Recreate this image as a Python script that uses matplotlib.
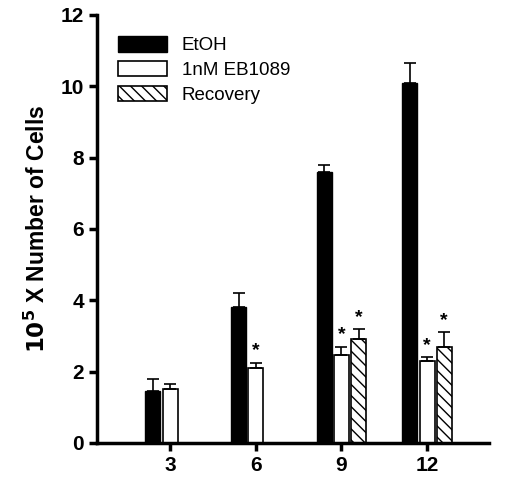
import matplotlib
matplotlib.use("Agg")
import matplotlib.pyplot as plt
import numpy as np

days = ["3", "6", "9", "12"]
etoh = [1.45, 3.8, 7.6, 10.1]
etoh_err = [0.35, 0.4, 0.2, 0.55]
eb = [1.5, 2.1, 2.45, 2.3]
eb_err = [0.15, 0.15, 0.25, 0.1]
rec = [np.nan, np.nan, 2.9, 2.7]
rec_err = [0, 0, 0.28, 0.4]
eb_star = [False, True, True, True]
rec_star = [False, False, True, True]

plt.rcParams['font.family'] = ['Liberation Sans', 'DejaVu Sans']
plt.rcParams['hatch.linewidth'] = 1.0
fig = plt.figure(figsize=(5.2, 4.97), dpi=100)
ax = fig.add_axes([0.187, 0.109, 0.753, 0.861])
x = np.arange(len(days))
w = 0.175
off = 0.2
ek = dict(ecolor='black', capsize=4, elinewidth=1.2, capthick=1.2)
ax.bar(x - off, etoh, w, color='black', edgecolor='black', label='EtOH',
       yerr=[np.zeros(4), etoh_err], error_kw=ek)
ax.bar(x, eb, w, color='white', edgecolor='black', lw=1.2, label='1nM EB1089',
       yerr=[np.zeros(4), eb_err], error_kw=ek)
ax.bar(x + off, rec, w, color='white', edgecolor='black', lw=1.2, hatch='\\\\\\',
       label='Recovery', yerr=[np.zeros(4), rec_err], error_kw=ek)
for i in range(4):
    if eb_star[i]:
        ax.text(x[i], eb[i] + eb_err[i] + 0.1, '*', ha='center', va='bottom', fontsize=14, fontweight='bold')
    if rec_star[i]:
        ax.text(x[i] + off, rec[i] + rec_err[i] + 0.1, '*', ha='center', va='bottom', fontsize=14, fontweight='bold')
ax.set_xlim(-0.85, 3.72)
ax.set_ylim(0, 12)
ax.set_yticks(range(0, 13, 2))
ax.set_xticks(x)
ax.set_xticklabels(days)
for s in ['top', 'right']:
    ax.spines[s].set_visible(False)
for s in ['left', 'bottom']:
    ax.spines[s].set_linewidth(2.5)
ax.tick_params(width=2.5, length=6, labelsize=15)
for t in ax.get_xticklabels() + ax.get_yticklabels():
    t.set_fontweight('bold')
ax.set_ylabel(r'$\mathbf{10^5}$ X Number of Cells', fontsize=16.5, fontweight='bold', labelpad=8)
ax.legend(loc='upper left', bbox_to_anchor=(0.01, 0.99), frameon=False, fontsize=13.5,
          handlelength=2.6, handleheight=0.9, labelspacing=0.35)
fig.savefig('out.png', dpi=100)
